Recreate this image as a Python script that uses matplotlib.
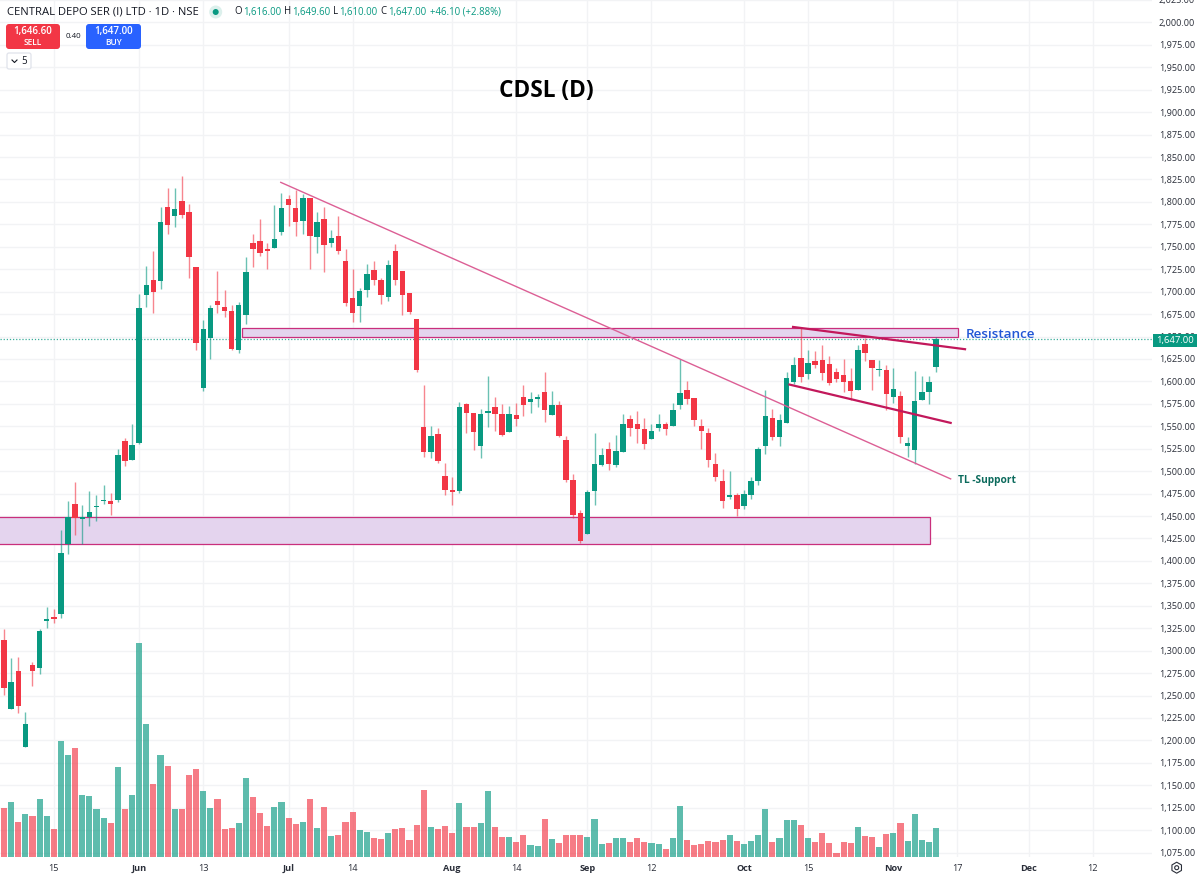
import matplotlib
matplotlib.use("Agg")
import matplotlib.pyplot as plt
from matplotlib.patches import Circle, FancyBboxPatch, Rectangle, RegularPolygon

# daily candles
opens = [1311.8, 1234.6, 1277.3, 1192.6, 1283.9, 1280.3, 1333.3, 1337.7, 1340.8, 1418.7,
         1462.9, 1446.9, 1448.4, 1459.9, 1466.3, 1466.9, 1468, 1533.4, 1513, 1531.5,
         1696.8, 1712.7, 1711.9, 1794, 1784.3, 1800.7, 1788.4, 1727.2, 1592.8, 1648.9,
         1689.3, 1683.4, 1678.2, 1634.7, 1673.7, 1754.2, 1756.1, 1748, 1749.1, 1766.5,
         1803.2, 1793.2, 1778.7, 1804, 1760.6, 1781.4, 1753.9, 1762.5, 1733.8, 1693,
         1683.7, 1701.9, 1723.8, 1712.7, 1693.8, 1745, 1723, 1698.2, 1670, 1549,
         1521.2, 1540.9, 1494.4, 1478.8, 1477.7, 1574.6, 1564.6, 1528.6, 1564.3, 1571.3,
         1563.8, 1544.2, 1563.1, 1582.1, 1577.6, 1580.2, 1588.7, 1563.1, 1573.8, 1534.5,
         1490, 1452.9, 1430.2, 1478, 1506.7, 1524.8, 1506.7, 1521.9, 1557.9, 1552.3,
         1547.5, 1535.3, 1548.6, 1552.3, 1550.1, 1573.5, 1590.2, 1581.3, 1549.8, 1542.3,
         1507.8, 1489.6, 1471.4, 1473.6, 1461, 1474, 1488.9, 1528.6, 1559, 1538.6,
         1553.8, 1599.9, 1625.8, 1608.4, 1623.3, 1624.4, 1619.1, 1610.2, 1606.9, 1600.2,
         1590.5, 1642.2, 1624.4, 1612.5, 1612.5, 1583.2, 1583.5, 1528.6, 1523.7, 1579.1,
         1588, 1616]
closes = [1258.7, 1265.4, 1238.6, 1217.9, 1277.6, 1321.8, 1334.9, 1335.5, 1408.3, 1449.1,
          1447.3, 1449.1, 1454.3, 1461, 1467.7, 1463.6, 1518.4, 1511.1, 1529, 1681.5,
          1707.9, 1700.1, 1777.6, 1774.7, 1792.5, 1785.1, 1738.3, 1642.9, 1658.1, 1681.5,
          1684.8, 1678.2, 1635.9, 1684.8, 1721.9, 1747.2, 1743.1, 1745.3, 1759.1, 1793.2,
          1796.2, 1778, 1804, 1761.7, 1777.3, 1752.4, 1760.2, 1745.8, 1687.9, 1676.3,
          1700.4, 1720.1, 1712.7, 1696.8, 1730.2, 1713.5, 1696, 1677.8, 1613.2, 1521.2,
          1539, 1511.1, 1478.8, 1477, 1571.3, 1564.9, 1544.2, 1563.8, 1566.5, 1563.5,
          1540.1, 1563.8, 1558.2, 1573.5, 1580.5, 1582.7, 1568.3, 1573.2, 1539.7, 1490.3,
          1451, 1422.4, 1476.3, 1507.8, 1517.5, 1507.8, 1522.3, 1553.1, 1547.9, 1547.5,
          1530.1, 1544.9, 1552.3, 1547.5, 1567.9, 1587.2, 1580.5, 1556.8, 1544.9, 1512.6,
          1493, 1466.6, 1473.3, 1457.3, 1474.4, 1489.2, 1524.2, 1561.2, 1538.6, 1557.1,
          1604.3, 1618.4, 1605, 1621, 1618.8, 1609.9, 1598, 1602.4, 1599.1, 1589.4,
          1635.1, 1631.4, 1614.7, 1613.6, 1586.1, 1592.1, 1537.9, 1531.5, 1578, 1588.7,
          1599.4, 1647]
highs = [1324, 1291.4, 1292.5, 1232, 1287.3, 1324, 1348.5, 1346.3, 1434.3, 1466.9,
         1487.7, 1462.1, 1477.7, 1473.6, 1484.4, 1475.2, 1524.2, 1537.5, 1553.1, 1697.1,
         1729, 1745.3, 1794.3, 1815.1, 1815.1, 1828.5, 1797.3, 1727.2, 1668.1, 1684.8,
         1723, 1701.6, 1684.8, 1688.2, 1738.6, 1763.9, 1781, 1754.7, 1797, 1810.3,
         1808.1, 1813, 1809.2, 1804, 1789.2, 1794.3, 1768.4, 1784.3, 1748, 1725,
         1704.6, 1731.3, 1733.8, 1715.7, 1735.7, 1752.8, 1723, 1698.2, 1670, 1595.8,
         1550.1, 1548.2, 1508.6, 1493, 1577.2, 1576.5, 1564.9, 1569.8, 1605.8, 1583.2,
         1574.3, 1572.4, 1576.5, 1596.5, 1588, 1586.5, 1610.6, 1589.1, 1578, 1539,
         1496.3, 1456.6, 1478.8, 1542.3, 1526, 1532.3, 1540.1, 1563.8, 1563.1, 1566.8,
         1559.8, 1552.3, 1563.8, 1554.9, 1575.7, 1624.7, 1601, 1581.6, 1557.9, 1548.6,
         1520, 1501.9, 1500, 1475.2, 1478.8, 1493, 1526.4, 1591, 1569.8, 1563.8,
         1610.2, 1627, 1660.7, 1635.1, 1634.4, 1641.1, 1628.4, 1615.5, 1625, 1615.5,
         1640.3, 1648.9, 1624.4, 1624.4, 1618, 1615.5, 1589.1, 1537.9, 1611.4, 1606.1,
         1605.8, 1649.6]
lows = [1250.5, 1234.6, 1230.2, 1192.6, 1260.3, 1274.3, 1325.5, 1330.8, 1336.6, 1407.6,
        1429.1, 1418.7, 1438.7, 1444, 1463.6, 1451.3, 1465.8, 1505.6, 1513, 1530,
        1683, 1676.3, 1702.7, 1764.7, 1772, 1782.1, 1715.3, 1635.5, 1589.4, 1624.7,
        1676.3, 1671.8, 1634.7, 1631.7, 1664.5, 1727.5, 1739.8, 1725.3, 1749.1, 1763.1,
        1773.2, 1762, 1763.9, 1725.3, 1742.8, 1721.6, 1749.4, 1742.4, 1684.1, 1666.3,
        1666.3, 1694.1, 1707.5, 1686.7, 1689.3, 1707.5, 1674.5, 1675.2, 1610.6, 1515.9,
        1515.2, 1508.6, 1473.6, 1462.1, 1475.2, 1542.6, 1523.4, 1514.5, 1549, 1544.9,
        1539.3, 1543.4, 1550.1, 1561.6, 1564.9, 1571.3, 1554.9, 1563.1, 1538.2, 1488,
        1447.3, 1419.5, 1430.2, 1462.1, 1505.5, 1501.1, 1504.8, 1521.9, 1539, 1531.5,
        1524.2, 1535.3, 1544.9, 1540.4, 1550.1, 1569, 1575, 1550.1, 1524.8, 1505.2,
        1489.6, 1459.1, 1468.8, 1449.9, 1458, 1469.2, 1484.7, 1519.3, 1534.5, 1527.8,
        1553.8, 1596.9, 1599.4, 1602.4, 1614.7, 1601.3, 1596.1, 1599.4, 1588, 1579.8,
        1590.5, 1622.8, 1590.2, 1606.1, 1568.7, 1576.5, 1531.2, 1515.9, 1507.8, 1579.1,
        1574.9, 1610]
# volume has no scale on the picture, so these are relative heights
volumes = [147, 164, 105, 128, 124, 173, 124, 84, 349, 305,
           328, 187, 182, 144, 117, 102, 269, 144, 185, 642,
           400, 220, 307, 272, 144, 144, 247, 263, 199, 146,
           173, 84, 88, 102, 236, 180, 133, 93, 151, 164,
           118, 100, 106, 175, 88, 151, 62, 66, 106, 135,
           82, 75, 57, 55, 71, 84, 86, 50, 97, 202,
           90, 84, 93, 73, 162, 90, 90, 101, 197, 89,
           59, 60, 45, 65, 36, 33, 114, 53, 42, 67,
           65, 67, 60, 114, 40, 42, 56, 56, 45, 58,
           45, 41, 38, 23, 58, 152, 50, 36, 38, 47,
           45, 51, 65, 47, 40, 47, 67, 143, 45, 56,
           110, 110, 96, 56, 45, 72, 42, 13, 45, 42,
           89, 63, 60, 29, 69, 72, 101, 47, 130, 51,
           45, 87]

x_tick_pos = [7, 19, 28, 40, 49, 63, 72, 82, 91, 104, 113, 125, 134, 144, 153]
x_tick_labels = ["15", "Jun", "13", "Jul", "14", "Aug", "14", "Sep", "12", "Oct", "15", "Nov", "17", "Dec", "12"]
y_ticks = list(range(1075, 2050, 25))

# drawings: (bar, price) ends of the trend lines and the two zones
trend_long = ([38.9, 133.05], [1821.8, 1491.4])
trend_upper = ([110.9, 135.07], [1660.7, 1635.9])
trend_lower = ([110.4, 133.05], [1596.5, 1553.8])
resistance_zone = (33.4, 134.1, 1649.8, 1659.8)
support_zone = (-5, 130.1, 1418.4, 1449.1)

GREEN = "#089981"
RED = "#f23645"
GRID = "#f2f3f5"
PINK = "#c2185b"
FONT = "Open Sans"

plt.rcParams["font.family"] = FONT

fig = plt.figure(figsize=(12, 8.77), dpi=100)
ax = fig.add_axes([0, 20 / 877, 1152 / 1200, 857 / 877], zorder=1)
ax_vol = fig.add_axes(ax.get_position(), zorder=2, sharex=ax)
ax_vol.patch.set_visible(False)
ax_vol.axis("off")
top = fig.add_axes([0, 0, 1, 1], zorder=3)
top.set_xlim(0, 1200)
top.set_ylim(877, 0)
top.axis("off")

# candles
idx = list(range(len(opens)))
colors = [GREEN if c >= o else RED for o, c in zip(opens, closes)]
ax.vlines(idx, lows, highs, colors=colors, linewidth=1.0, alpha=0.6, zorder=4)
bodies = [max(abs(c - o), 1.3) for o, c in zip(opens, closes)]
ax.bar(idx, bodies, bottom=[min(o, c) for o, c in zip(opens, closes)], width=0.76, color=colors, linewidth=0, zorder=5)

# volume
ax_vol.bar(idx, volumes, width=0.86, color=colors, alpha=0.65, linewidth=0)
ax_vol.set_ylim(0, 857 * 3)

# zones and lines
for x0, x1, y0, y1 in [resistance_zone, support_zone]:
    ax.add_patch(Rectangle((x0, y0), x1 - x0, y1 - y0, facecolor="#e4d4ee", edgecolor="#c92f7c", linewidth=0.9, zorder=3))
ax.plot(*trend_long, color="#dc5f95", linewidth=1.0, zorder=6)
ax.plot(*trend_upper, color=PINK, linewidth=1.6, zorder=6)
ax.plot(*trend_lower, color=PINK, linewidth=1.6, zorder=6)
ax.axhline(closes[-1], color=GREEN, linewidth=0.9, linestyle=(0, (1, 1.5)), alpha=0.8, zorder=2)

# axes, same scale as the picture
ax.set_xlim(-4 / 7.115, (1152 - 4) / 7.115)
ax.set_ylim(1070.1, 2024.5)
ax.set_yticks(y_ticks)
ax.set_yticklabels([f"{v:,.2f}" for v in y_ticks])
ax.yaxis.tick_right()
ax.set_xticks(x_tick_pos)
ax.set_xticklabels(x_tick_labels)
ax.grid(True, color=GRID, linewidth=1)
ax.set_axisbelow(True)
ax.tick_params(axis="both", length=0, labelsize=6.6, labelcolor="#2a2e39")
ax.tick_params(axis="y", pad=5)
ax.tick_params(axis="x", pad=5)
for lab in ax.get_xticklabels():
    if lab.get_text().isalpha():
        lab.set_fontweight("bold")
for side in ax.spines.values():
    side.set_visible(False)

# last price tag
top.add_patch(Rectangle((1153, 334), 44, 13, facecolor=GREEN, edgecolor="none"))
top.text(1175, 340.5, "1,647.00", color="white", fontsize=6.8, ha="center", va="center")

# header
INK = "#131722"
top.text(7, 12, "CENTRAL DEPO SER (I) LTD · 1D · NSE", color=INK, fontsize=8.1, va="center")
top.add_patch(Circle((215.7, 12), 6.5, facecolor="#dcf0ec", edgecolor="none"))
top.add_patch(Circle((215.7, 12), 3, facecolor=GREEN, edgecolor="none"))
ohlc_parts = [(234.7, "O", INK), (242.7, "1,616.00", GREEN), (283.7, "H", INK), (291.7, "1,649.60", GREEN),
              (333, "L", INK), (339, "1,610.00", GREEN), (380.7, "C", INK), (387.7, "1,647.00", GREEN),
              (429.7, "+46.10 (+2.88%)", GREEN)]
for x, s, c in ohlc_parts:
    top.text(x, 12, s, color=c, fontsize=6.9, va="center")

# buy / sell buttons
for x0, w, c, price, side in [(6, 54, RED, "1,646.60", "SELL"), (86, 55, "#2962ff", "1,647.00", "BUY")]:
    top.add_patch(FancyBboxPatch((x0 + 3, 27), w - 6, 19, boxstyle="round,pad=3", facecolor=c, edgecolor="none"))
    top.text(x0 + w / 2, 31.5, price, color="white", fontsize=7.0, fontweight="semibold", ha="center", va="center")
    top.text(x0 + w / 2, 42.5, side, color="white", fontsize=6.0, fontweight="semibold", ha="center", va="center")
top.text(73.7, 37, "0.40", color=INK, fontsize=5.8, ha="center", va="center")

# collapsed indicators button
top.add_patch(FancyBboxPatch((9, 55), 20, 12, boxstyle="round,pad=2", facecolor="white", edgecolor="#e0e3eb", linewidth=0.9))
top.plot([12, 14.5, 17], [60, 62.5, 60], color=INK, linewidth=0.8)
top.text(24, 61.5, "5", color=INK, fontsize=7.0, ha="center", va="center")

# notes on the chart
top.text(546, 91, "CDSL (D)", color="black", fontsize=16.3, fontweight="bold", ha="center", va="center")
top.text(966, 334, "Resistance", color="#2257d6", fontsize=9.7, fontweight="semibold", va="center")
top.text(958, 481, "TL -Support", color="#0b6a5c", fontsize=7.3, fontweight="bold", va="center")

# settings icon
top.add_patch(RegularPolygon((1176.7, 867.7), 6, radius=5.5, facecolor="none", edgecolor="#2a2e39", linewidth=0.8))
top.add_patch(Circle((1176.7, 867.7), 2, facecolor="none", edgecolor="#2a2e39", linewidth=0.8))

fig.savefig("out.png", dpi=100)
